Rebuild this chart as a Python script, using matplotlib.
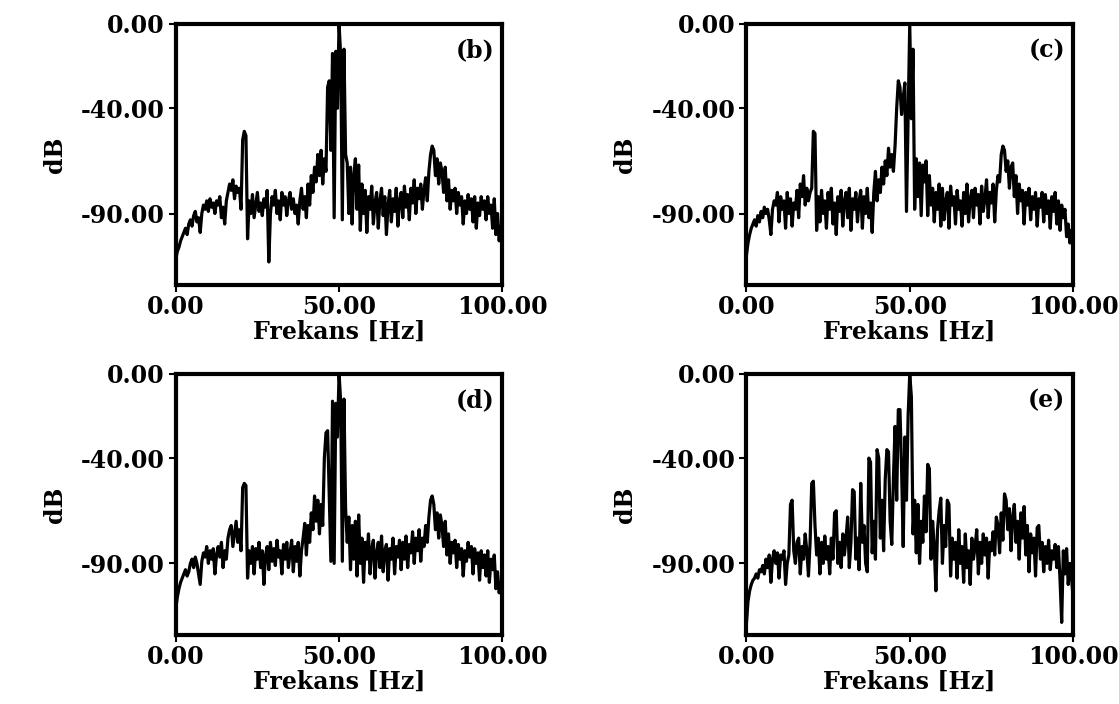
import matplotlib
matplotlib.use("Agg")
import matplotlib.pyplot as plt
from matplotlib.ticker import FormatStrFormatter
import numpy as np

plt.rcParams['font.family'] = ['DejaVu Serif']
plt.rcParams['font.weight'] = 'bold'
plt.rcParams['axes.unicode_minus'] = False

# frequency grid of the spectra [Hz], 0.5 Hz steps
freq = np.arange(0, 100.01, 0.5)

# magnitude spectra [dB] (10 values = 5 Hz per row)
spec_b = [
    -112, -108, -106, -103, -101, -99, -97, -100, -95, -93,
    -96, -91, -89, -94, -92, -99, -90, -86, -88, -84,
    -89, -83, -87, -85, -90, -84, -86, -82, -92, -87,
    -95, -84, -80, -76, -79, -74, -83, -77, -80, -78,
    -88, -55, -51, -53, -102, -84, -90, -81, -92, -86,
    -80, -89, -85, -91, -83, -87, -79, -113, -90, -82,
    -86, -79, -90, -84, -93, -80, -86, -82, -91, -84,
    -80, -88, -83, -90, -86, -95, -84, -78, -88, -82,
    -92, -76, -86, -72, -80, -68, -75, -62, -72, -60,
    -76, -64, -70, -30, -27, -60, -14, -92, -13, -40,
    0, -15, -93, -12, -62, -66, -90, -68, -95, -72,
    -64, -88, -67, -98, -76, -90, -79, -99, -82, -88,
    -77, -95, -85, -80, -97, -84, -78, -91, -82, -100,
    -86, -79, -94, -83, -89, -78, -96, -84, -80, -92,
    -77, -87, -81, -93, -78, -85, -74, -90, -78, -83,
    -76, -88, -79, -73, -84, -70, -62, -58, -60, -72,
    -64, -76, -66, -70, -80, -68, -84, -74, -88, -79,
    -84, -78, -90, -80, -86, -82, -95, -84, -90, -81,
    -88, -83, -94, -82, -97, -85, -91, -82, -88, -84,
    -93, -82, -90, -86, -97, -83, -100, -90, -103, -96,
    -110,
]

spec_c = [
    -110, -104, -100, -97, -95, -93, -96, -91, -94, -89,
    -92, -87, -90, -88, -93, -100, -88, -84, -86, -80,
    -94, -82, -88, -84, -97, -80, -90, -83, -96, -85,
    -88, -79, -92, -76, -82, -72, -86, -78, -84, -80,
    -78, -51, -52, -98, -82, -94, -79, -90, -84, -97,
    -80, -88, -78, -95, -85, -100, -82, -89, -79, -96,
    -84, -80, -92, -78, -98, -83, -88, -80, -94, -84,
    -79, -97, -82, -90, -78, -92, -85, -99, -80, -70,
    -84, -74, -80, -68, -76, -65, -72, -59, -68, -62,
    -70, -58, -40, -27, -30, -43, -35, -28, -89, -45,
    0, -45, -12, -88, -64, -82, -66, -91, -67, -75,
    -65, -91, -72, -86, -78, -94, -80, -88, -76, -96,
    -78, -93, -84, -80, -97, -77, -86, -82, -95, -79,
    -88, -84, -96, -80, -90, -76, -94, -83, -79, -92,
    -78, -86, -81, -95, -77, -89, -83, -74, -92, -80,
    -85, -76, -94, -79, -72, -75, -62, -58, -60, -70,
    -65, -78, -68, -66, -82, -72, -90, -76, -84, -79,
    -95, -80, -86, -78, -93, -82, -88, -80, -96, -83,
    -87, -80, -94, -81, -90, -84, -97, -82, -89, -80,
    -95, -84, -98, -86, -92, -88, -101, -95, -104, -98,
    -108,
]

spec_d = [
    -112, -106, -102, -99, -97, -95, -93, -96, -94, -90,
    -88, -92, -87, -90, -95, -100, -89, -85, -87, -82,
    -90, -84, -88, -83, -95, -86, -82, -87, -80, -92,
    -84, -88, -78, -74, -72, -82, -76, -70, -80, -74,
    -84, -54, -52, -53, -97, -84, -90, -82, -95, -83,
    -88, -80, -92, -84, -100, -86, -82, -93, -80, -89,
    -83, -91, -79, -87, -84, -95, -81, -88, -80, -92,
    -85, -79, -94, -82, -89, -80, -96, -84, -78, -71,
    -86, -72, -80, -66, -74, -58, -70, -60, -76, -62,
    -72, -40, -28, -27, -58, -89, -13, -90, -14, -30,
    0, -13, -89, -12, -64, -80, -68, -93, -72, -88,
    -70, -96, -67, -90, -78, -99, -80, -88, -76, -95,
    -83, -79, -97, -85, -80, -92, -77, -94, -84, -81,
    -98, -83, -88, -78, -95, -82, -87, -79, -93, -80,
    -88, -77, -92, -81, -85, -75, -90, -78, -84, -74,
    -89, -78, -82, -72, -80, -68, -60, -58, -62, -74,
    -66, -78, -67, -72, -82, -70, -86, -76, -90, -80,
    -85, -79, -92, -81, -88, -83, -96, -84, -89, -80,
    -87, -82, -95, -83, -90, -85, -98, -84, -92, -86,
    -96, -84, -99, -88, -93, -86, -102, -94, -104, -99,
    -108,
]

spec_e = [
    -119, -108, -103, -100, -98, -97, -95, -97, -93, -94,
    -91, -95, -88, -92, -86, -99, -88, -84, -90, -85,
    -97, -86, -88, -84, -100, -90, -86, -62, -60, -84,
    -90, -80, -78, -95, -82, -88, -76, -84, -96, -80,
    -52, -51, -72, -86, -78, -95, -80, -90, -77, -88,
    -82, -95, -78, -88, -66, -65, -90, -80, -92, -76,
    -86, -78, -68, -92, -80, -55, -56, -88, -78, -93,
    -52, -80, -72, -90, -94, -40, -42, -85, -70, -88,
    -36, -40, -78, -60, -84, -50, -36, -37, -70, -81,
    -50, -25, -60, -17, -17, -45, -82, -30, -60, -20,
    0, -11, -76, -60, -85, -62, -90, -70, -80, -58,
    -75, -43, -45, -88, -70, -82, -103, -74, -65, -59,
    -90, -72, -82, -60, -62, -96, -78, -88, -80, -97,
    -74, -90, -82, -99, -76, -92, -84, -100, -78, -88,
    -82, -74, -95, -80, -90, -76, -86, -78, -97, -80,
    -84, -75, -86, -68, -72, -85, -66, -79, -57, -60,
    -74, -64, -84, -68, -62, -80, -70, -88, -66, -78,
    -63, -86, -72, -94, -76, -85, -78, -96, -73, -72,
    -88, -80, -94, -82, -90, -79, -93, -84, -88, -81,
    -92, -82, -98, -118, -84, -95, -83, -100, -90, -96,
    -107,
]

panel_labels = ['(b)', '(c)', '(d)', '(e)']
spectra = [spec_b, spec_c, spec_d, spec_e]
x_ticks = [0, 50, 100]
y_ticks = [0, -40, -90]

fig = plt.figure(figsize=(11.19, 7.04), dpi=100)
rects = [
    [0.157, 0.595, 0.292, 0.371],
    [0.667, 0.595, 0.292, 0.371],
    [0.157, 0.098, 0.292, 0.371],
    [0.667, 0.098, 0.292, 0.371],
]

for rect, spec, lab in zip(rects, spectra, panel_labels):
    ax = fig.add_axes(rect)
    ax.plot(freq, spec, color='black', lw=2.3)
    ax.set_xlim(0, 100)
    ax.set_ylim(-124, 0)
    ax.set_xticks(x_ticks)
    ax.set_yticks(y_ticks)
    ax.xaxis.set_major_formatter(FormatStrFormatter('%.2f'))
    ax.yaxis.set_major_formatter(FormatStrFormatter('%.2f'))
    ax.tick_params(direction='out', length=5, width=1.5, pad=3, labelsize=17)
    ax.tick_params(axis='x', pad=2)
    for s in ax.spines.values():
        s.set_linewidth(3)
    ax.set_xlabel('Frekans [Hz]', fontsize=17, fontweight='bold', labelpad=1)
    ax.set_ylabel('dB', fontsize=17, fontweight='bold', labelpad=10)
    ax.text(0.975, 0.90, lab, transform=ax.transAxes, ha='right', va='center',
            fontsize=17, fontweight='bold')

fig.savefig('out.png', dpi=100)
